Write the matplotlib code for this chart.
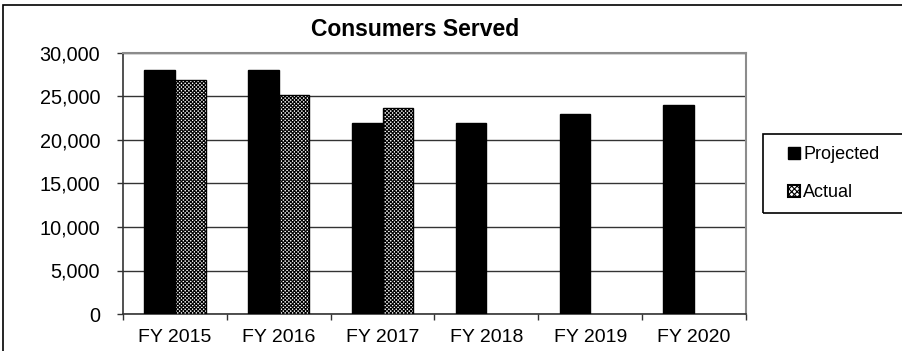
import numpy as np
import matplotlib.pyplot as plt
from matplotlib.patches import Rectangle, Patch
from matplotlib.ticker import FuncFormatter

plt.rcParams['font.family'] = ['Liberation Sans', 'DejaVu Sans']
plt.rcParams['hatch.linewidth'] = 0.8

years = ['FY 2015', 'FY 2016', 'FY 2017', 'FY 2018', 'FY 2019', 'FY 2020']
projected = [28000, 28000, 22000, 22000, 23000, 24000]
actual = [26900, 25200, 23700]

W, H = 903, 351
fig = plt.figure(figsize=(W / 100, H / 100), dpi=100)
ax = fig.add_axes([123 / W, 1 - 314 / H, (746 - 123) / W, (314 - 53) / H])

x = np.arange(len(years))
w = 0.295
hatch = 'x' * 9
ax.bar(x - w / 2, projected, width=w, color='black', edgecolor='black', linewidth=1, zorder=3)
ax.bar(x[:len(actual)] + w / 2, actual, width=w, color='white', edgecolor='black',
       hatch=hatch, linewidth=1, zorder=3)

ax.set_xlim(-0.5, len(years) - 0.5)
ax.set_ylim(0, 30000)
ax.set_yticks(np.arange(0, 30001, 5000))
ax.yaxis.set_major_formatter(FuncFormatter(lambda v, p: f'{int(v):,}'))
ax.set_xticks(x)
ax.set_xticklabels(years)
ax.set_xticks(np.arange(-0.5, len(years)), minor=True)

ax.tick_params(axis='x', which='major', length=0, pad=11, labelsize=14)
ax.tick_params(axis='x', which='minor', length=4.5, width=1, color='#333333', direction='out')
ax.tick_params(axis='y', length=4.5, width=1, color='#333333', direction='out', pad=12, labelsize=14.3)

ax.grid(axis='y', color='#333333', linewidth=1)
ax.set_axisbelow(True)
for side in ['left', 'bottom']:
    ax.spines[side].set_color('#333333')
    ax.spines[side].set_linewidth(1.2)
for side in ['top', 'right']:
    ax.spines[side].set_color('#8c8c8c')
    ax.spines[side].set_linewidth(1.5)

fig.text(415.5 / W, 1 - 36 / H, 'Consumers Served', ha='center', va='baseline',
         fontsize=16.5, fontweight='bold')

# outer chart frame (runs off the right and bottom edges)
fig.patches.append(Rectangle((3.5 / W, -0.2), 1.2, 1.2 - 4.5 / H, transform=fig.transFigure,
                             fill=False, edgecolor='black', linewidth=1.2))

# legend frame
fig.patches.append(Rectangle((763.5 / W, 1 - 213 / H), 0.2, 79 / H, transform=fig.transFigure,
                             fill=False, edgecolor='black', linewidth=1.2))
handles = [Patch(facecolor='black', edgecolor='black'),
           Patch(facecolor='black', edgecolor='black', hatch='xxx', linewidth=0)]
fig.legend(handles, ['Projected', 'Actual'], loc='center left',
           bbox_to_anchor=(788 / W, 1 - 173.5 / H), frameon=False, fontsize=13,
           handlelength=0.65, handleheight=0.65, handletextpad=0.2, labelspacing=1.15,
           borderpad=0, borderaxespad=0)
leg_handles = fig.legends[0].legend_handles
leg_handles[1].set_facecolor('white')
leg_handles[1].set_hatch('xxxxxx')
leg_handles[1].set_edgecolor('black')
leg_handles[1].set_linewidth(1.5)

fig.savefig('out.png', dpi=100)
